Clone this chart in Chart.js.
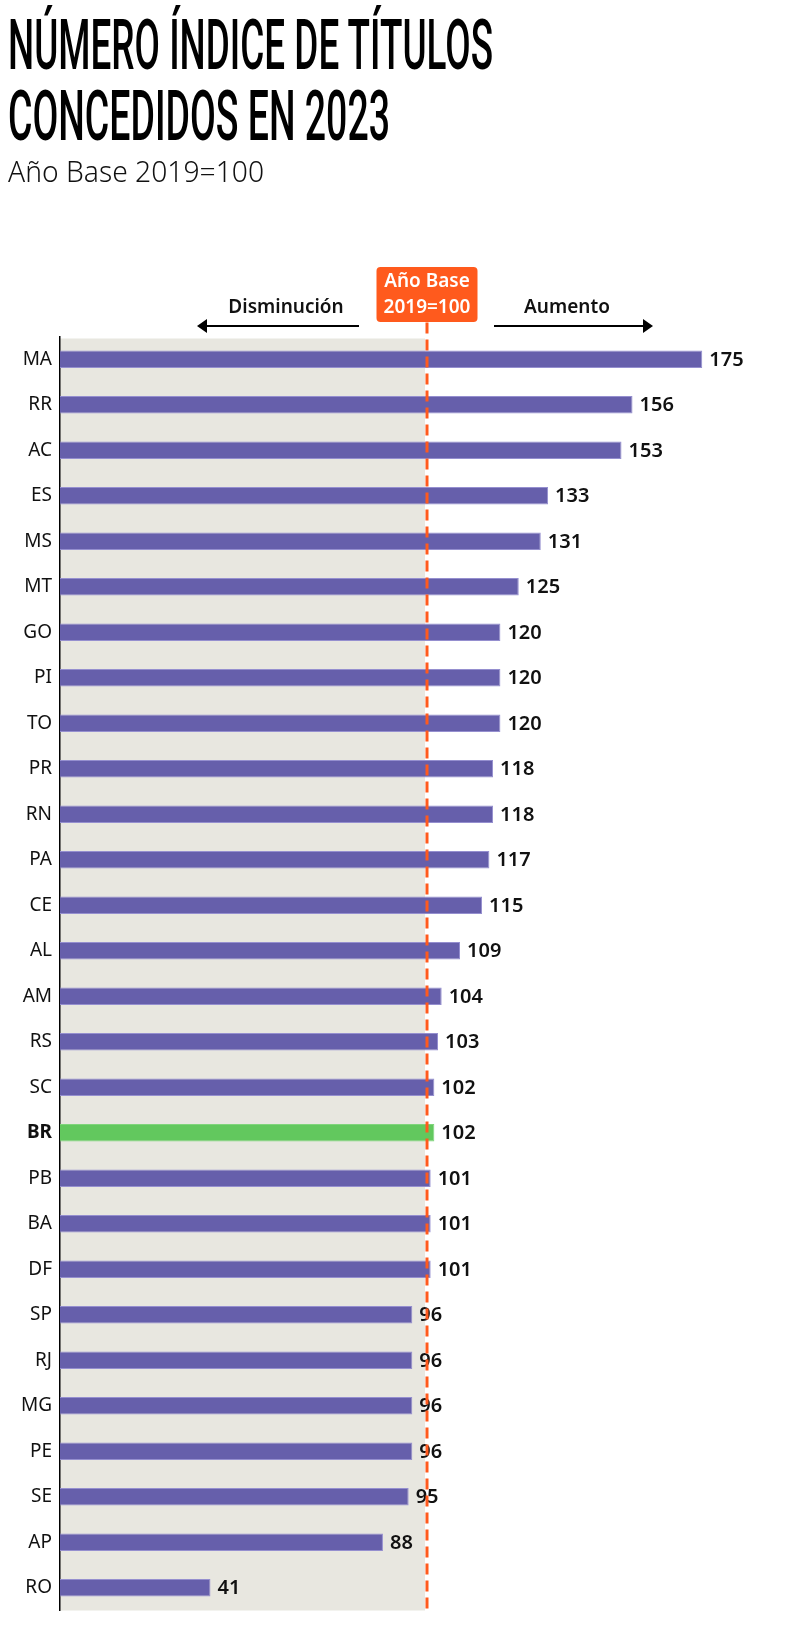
<!DOCTYPE html>
<html lang="es">
<head>
<meta charset="utf-8">
<title>Número índice de títulos concedidos en 2023</title>
<script src="https://cdn.jsdelivr.net/npm/chart.js@4.4.1/dist/chart.umd.min.js"></script>
<style>
  html, body { margin: 0; padding: 0; background: #fff; }
  body { width: 800px; height: 1652px; position: relative; overflow: hidden; }
  #chart { position: absolute; left: 0; top: 0; }
  .title {
    position: absolute; left: 8px; margin: 0;
    font-family: Roboto, "Liberation Sans", sans-serif; font-weight: 500;
    font-size: 70px; line-height: 70px; color: #000;
    white-space: nowrap; transform-origin: 0 0;
  }
  .sub {
    position: absolute; left: 8px; top: 156px; margin: 0;
    font-family: "Noto Sans", sans-serif; font-weight: 300;
    font-size: 30px; line-height: 30px; color: #111;
    white-space: nowrap; transform-origin: 0 0;
  }
</style>
</head>
<body>
<canvas id="chart" width="800" height="1652"></canvas>
<h1 class="title" id="title1" style="top:10px" data-w="485">NÚMERO ÍNDICE DE TÍTULOS</h1>
<h1 class="title" id="title2" style="top:81px" data-w="382">CONCEDIDOS EN 2023</h1>
<p class="sub" id="subtitle" data-w="256">Año Base 2019=100</p>

<script>
// data
const states = ['MA', 'RR', 'AC', 'ES', 'MS', 'MT', 'GO', 'PI', 'TO', 'PR', 'RN', 'PA', 'CE', 'AL',
  'AM', 'RS', 'SC', 'BR', 'PB', 'BA', 'DF', 'SP', 'RJ', 'MG', 'PE', 'SE', 'AP', 'RO'];
const indexValues = [175, 156, 153, 133, 131, 125, 120, 120, 120, 118, 118, 117, 115, 109,
  104, 103, 102, 102, 101, 101, 101, 96, 96, 96, 96, 95, 88, 41];
const baseValue = 100;
const highlightState = 'BR';
const baseLabelLines = ['Año Base', '2019=100'];
const leftLabel = 'Disminución';
const rightLabel = 'Aumento';

const PURPLE = '#665fab';
const PURPLE_EDGE = '#958fcf';
const GREEN = '#62c85e';
const GREEN_EDGE = '#7fd57b';
const ORANGE = '#ff5a1d';
const SHADE = '#e8e7e0';

// squeeze the headings to the widths seen in the picture
document.querySelectorAll('[data-w]').forEach(function (el) {
  const w = el.getBoundingClientRect().width;
  el.style.transform = 'scaleX(' + (Number(el.dataset.w) / w) + ')';
});

const brIndex = states.indexOf(highlightState);

const shadePlugin = {
  id: 'shade',
  beforeDraw(chart) {
    const { ctx, chartArea, scales } = chart;
    const xb = scales.x.getPixelForValue(baseValue);
    ctx.save();
    ctx.fillStyle = SHADE;
    ctx.fillRect(chartArea.left, chartArea.top + 2, xb - chartArea.left - 2, chartArea.bottom - chartArea.top - 2);
    ctx.restore();
  },
};

function arrowHead(ctx, x, y, dir) {
  ctx.beginPath();
  ctx.moveTo(x, y);
  ctx.lineTo(x - dir * 10, y - 7);
  ctx.lineTo(x - dir * 10, y + 7);
  ctx.closePath();
  ctx.fill();
}

const annotationPlugin = {
  id: 'annotations',
  afterDatasetsDraw(chart) {
    const { ctx, chartArea, scales } = chart;
    const xb = scales.x.getPixelForValue(baseValue);
    const top = chartArea.top;

    ctx.save();

    // value labels
    ctx.fillStyle = '#111';
    ctx.font = '600 20px "Noto Sans", sans-serif';
    ctx.textAlign = 'left';
    ctx.textBaseline = 'middle';
    chart.getDatasetMeta(0).data.forEach(function (bar, i) {
      ctx.fillText(String(indexValues[i]), bar.x + 7, bar.y + 1);
    });

    // dashed base line
    ctx.strokeStyle = ORANGE;
    ctx.lineWidth = 3;
    ctx.setLineDash([11, 6]);
    ctx.beginPath();
    ctx.moveTo(xb, top - 14);
    ctx.lineTo(xb, chartArea.bottom);
    ctx.stroke();
    ctx.setLineDash([]);

    // orange label box
    const bw = 101, bh = 55;
    ctx.fillStyle = ORANGE;
    ctx.beginPath();
    ctx.roundRect(xb - bw / 2, top - 69.5, bw, bh, 4);
    ctx.fill();
    ctx.fillStyle = '#fff';
    ctx.font = '600 19px "Noto Sans", sans-serif';
    ctx.textAlign = 'center';
    ctx.fillText(baseLabelLines[0], xb, top - 55);
    ctx.fillText(baseLabelLines[1], xb, top - 29);

    // arrows
    const ay = top - 10.5;
    ctx.strokeStyle = '#000';
    ctx.fillStyle = '#000';
    ctx.lineWidth = 2;
    ctx.beginPath();
    ctx.moveTo(xb - 68, ay);
    ctx.lineTo(xb - 225, ay);
    ctx.moveTo(xb + 67, ay);
    ctx.lineTo(xb + 221, ay);
    ctx.stroke();
    arrowHead(ctx, xb - 230, ay, -1);
    arrowHead(ctx, xb + 226, ay, 1);

    ctx.font = '600 19px "Noto Sans", sans-serif';
    ctx.fillStyle = '#111';
    ctx.fillText(leftLabel, xb - 141, top - 29);
    ctx.fillText(rightLabel, xb + 140, top - 29);

    ctx.restore();
  },
};

const ctx = document.getElementById('chart').getContext('2d');
const chart = new Chart(ctx, {
  type: 'bar',
  data: {
    labels: states,
    datasets: [
      {
        data: indexValues,
        backgroundColor: states.map((s) => (s === highlightState ? GREEN : PURPLE)),
        borderColor: states.map((s) => (s === highlightState ? GREEN_EDGE : PURPLE_EDGE)),
        borderWidth: 1,
        barPercentage: 0.39,
        categoryPercentage: 1.0,
      },
    ],
  },
  options: {
    indexAxis: 'y',
    responsive: false,
    animation: false,
    layout: {
      padding: { top: 336.5, bottom: 41.5, left: 0, right: 6 },
    },
    scales: {
      x: {
        display: false,
        min: 0,
        max: 200,
      },
      y: {
        grid: { display: false, drawTicks: false },
        border: { display: true, color: '#000', width: 1.5 },
        ticks: {
          padding: 8,
          color: '#111',
          font: function (c) {
            return {
              family: '"Noto Sans", sans-serif',
              size: 19,
              weight: c.index === brIndex ? 'bold' : 'normal',
            };
          },
        },
        afterFit: function (scale) {
          scale.width = 60;
        },
      },
    },
    plugins: {
      legend: { display: false },
      tooltip: { enabled: false },
    },
  },
  plugins: [shadePlugin, annotationPlugin],
});
</script>
</body>
</html>
